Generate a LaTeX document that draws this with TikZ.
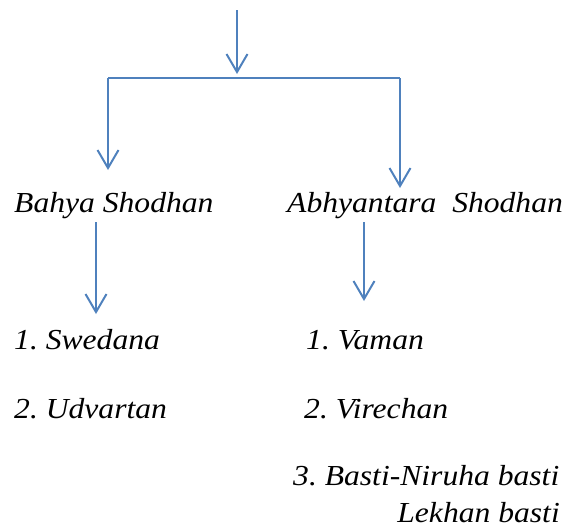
\documentclass[tikz,border=0pt]{standalone}
\usepackage{fontspec}
\setmainfont{Liberation Serif}[FakeStretch=1.09]
\usetikzlibrary{arrows.meta}
\definecolor{arrowblue}{HTML}{4F81BD}
\frenchspacing
\begin{document}
\begin{tikzpicture}[x=1pt,y=-1pt,
  lbl/.style={anchor=base west,inner sep=0pt,font=\fontsize{29}{35}\selectfont\itshape},
  conn/.style={draw=arrowblue,line width=2pt},
  arr/.style={conn,-{Straight Barb[length=18pt,width=21pt,line width=2pt]}}]
\useasboundingbox (0,0) rectangle (569,530);
% text nodes
\node[lbl] (bahya) at (14,212) {Bahya Shodhan};
\node[lbl] (abhy) at (287,212) {Abhyantara\ \ Shodhan};
\node[lbl] (swed) at (14,349) {1. Swedana};
\node[lbl] (udv) at (14,418) {2. Udvartan};
\node[lbl] (vam) at (306,349) {1. Vaman};
\node[lbl] (vir) at (304,418) {2. Virechan};
\node[lbl] (basti) at (293,485) {3. Basti-Niruha basti};
\node[lbl,anchor=base east] (lekh) at (560,522) {Lekhan basti};
% coordinates
\coordinate (top) at (237,10);
\coordinate (topTip) at (237,74);
\coordinate (jl) at (108,78);
\coordinate (jr) at (400,78);
\coordinate (lTip) at (108,170);
\coordinate (rTip) at (400,188);
\coordinate (bStart) at (96,222);
\coordinate (bTip) at (96,314);
\coordinate (aStart) at (364,222);
\coordinate (aTip) at (364,301);
% connectors
\draw[arr] (top) -- (topTip);
\draw[conn] (jl) -- (jr);
\draw[arr] (jl) -- (lTip);
\draw[arr] (jr) -- (rTip);
\draw[arr] (bStart) -- (bTip);
\draw[arr] (aStart) -- (aTip);
\end{tikzpicture}
\end{document}
